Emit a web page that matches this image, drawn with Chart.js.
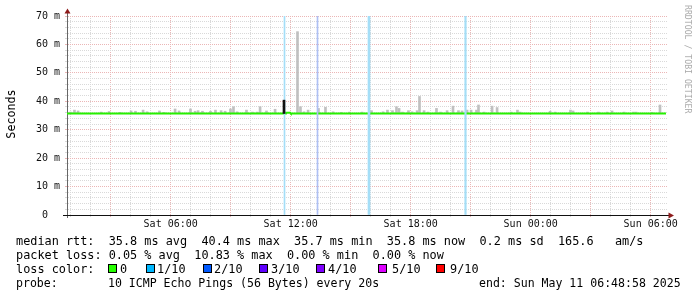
<!DOCTYPE html>
<html>
<head>
<meta charset="utf-8">
<script src="https://cdn.jsdelivr.net/npm/chart.js@4.4.1/dist/chart.umd.min.js"></script>
<style>
body{margin:0;background:#fff;}
#wrap{position:relative;width:697px;height:297px;overflow:hidden;font-family:"DejaVu Sans Mono",monospace;color:#000;}
canvas{position:absolute;left:0;top:0;}
.t{position:absolute;white-space:pre;font-size:11.85px;line-height:14px;}
.t.s{font-size:11.55px;}
.box{position:absolute;width:7px;height:7px;border:1px solid #000;}
#ytitle{position:absolute;left:-19px;top:107px;width:60px;height:14px;line-height:14px;text-align:center;font-size:11.7px;transform:rotate(-90deg);}
#mark{position:absolute;left:693px;top:5px;white-space:pre;font-size:8.2px;line-height:10px;color:#aaa;transform-origin:0 0;transform:rotate(90deg);}
</style>
</head>
<body>
<div id="wrap">
<canvas id="chart" width="697" height="297"></canvas>
<div id="ytitle">Seconds</div>
<div id="mark">RRDTOOL / TOBI OETIKER</div>
<div class="t" style="left:16px;top:234px">median rtt:  35.8 ms avg  40.4 ms max  35.7 ms min  35.8 ms now  0.2 ms sd  165.6   am/s</div>
<div class="t" style="left:16px;top:248px">packet loss: 0.05 % avg  10.83 % max  0.00 % min  0.00 % now</div>
<div class="t" style="left:16px;top:262px">loss color:</div>
<div id="losslegend"></div>
<div class="t s" style="left:16px;top:276px">probe:</div>
<div class="t s" style="left:108px;top:276px">10 ICMP Echo Pings (56 Bytes) every 20s</div>
<div class="t s" style="left:479px;top:276px">end: Sun May 11 06:48:58 2025</div>
</div>
<script>
// time axis in hours since Sat 00:00
const startHour = 0.816;
const endHour = 30.816;
const tickHours = [6, 12, 18, 24, 30];
const tickLabels = ["Sat 06:00", "Sat 12:00", "Sat 18:00", "Sun 00:00", "Sun 06:00"];
const yLabelValues = [0, 10, 20, 30, 40, 50, 60, 70];
const yLabels = ["0  ", "10 m", "20 m", "30 m", "40 m", "50 m", "60 m", "70 m"];

// median rtt (ms)
const medianHours = [0.816, 11.72, 11.76, 11.97, 12.01, 30.766];
const medianMs = [35.7, 35.7, 36.0, 36.0, 35.7, 35.7];
const medianBase = 35.7;

// smoke: top of the ping spread (ms)
const smokeHours = [0.99, 1.19, 1.37, 2.52, 2.92, 3.47, 4.02, 4.24, 4.62, 4.82, 5.44, 5.67, 6.22, 6.42, 6.99, 7.22, 7.37, 7.59, 7.99, 8.24,
  8.52, 8.72, 8.99, 9.14, 9.32, 9.79, 10.09, 10.32, 10.47, 10.79, 11.22, 12.341, 12.49, 12.67, 12.87, 13.39, 13.74, 14.12, 14.52, 14.94,
  15.57, 16.04, 16.62, 16.84, 17.09, 17.29, 17.42, 17.59, 17.89, 18.07, 18.32, 18.441, 18.67, 18.87, 19.29, 19.49, 19.82, 20.116, 20.39, 20.57,
  20.82, 21.02, 21.29, 21.391, 21.67, 22.07, 22.32, 23.02, 23.34, 23.47, 24.97, 25.22, 25.99, 26.12, 26.84, 27.39, 27.82, 28.07, 28.67, 29.14,
  29.27, 30.07, 30.466];
const smokeTopMs = [36.2, 36.9, 36.6, 36.2, 36.4, 36.1, 36.6, 36.5, 36.9, 36.3, 36.6, 36.1, 37.3, 36.6, 37.3, 36.5, 36.7, 36.5, 36.5, 36.9,
  36.7, 36.5, 37.3, 38.1, 36.3, 36.9, 36.2, 36.2, 38.1, 36.6, 37.2, 64.5, 38.1, 36.3, 36.9, 37.5, 37.9, 36.3, 36.1, 36.2,
  36.2, 36.7, 36.3, 36.9, 36.7, 38.1, 37.5, 36.2, 36.7, 36.3, 36.7, 41.7, 36.7, 36.2, 37.5, 36.2, 36.7, 38.3, 36.7, 36.6,
  36.9, 36.9, 36.9, 38.7, 36.2, 38.3, 37.8, 36.2, 36.9, 36.2, 36.5, 36.2, 36.9, 36.6, 36.2, 36.2, 36.2, 36.6, 36.2, 36.2,
  36.2, 36.1, 38.7];

// median peak
const peakHours = [11.666];
const peakMs = [40.4];

// packet loss events
const lossHours = [11.691, 13.341, 15.916, 20.741];
const lossTenths = [1, 2, 1, 1];

// styles
const lossFill = {1: "#a4def7", 2: "#aec0f4"};
const lossWidth = [1, 1, 2, 1.5];
const minorGrid = "#d9d9d9";
const majorGrid = "#ebb6b6";

const lossLegend = [
  ["#26ff00", "0", 108, 120], ["#00b8ff", "1/10", 146, 157], ["#0059ff", "2/10", 203, 214],
  ["#5e00ff", "3/10", 259, 271], ["#7e00ff", "4/10", 316, 328], ["#dd00ff", "5/10", 378, 392], ["#ff0000", "9/10", 436, 450]
];
const ll = document.getElementById("losslegend");
lossLegend.forEach(([c, txt, bx, tx]) => {
  ll.insertAdjacentHTML("beforeend",
    `<div class="box" style="left:${bx}px;top:264px;background:${c}"></div><div class="t" style="left:${tx}px;top:262px">${txt}</div>`);
});

const hourTicks = [];
for (let h = 1; h <= 30; h++) hourTicks.push({value: h});
const msTicks = [];
for (let v = 0; v <= 70; v += 2) msTicks.push({value: v});

const axisArrows = {
  id: "axisArrows",
  afterDraw(chart) {
    const {ctx, chartArea: a} = chart;
    ctx.save();
    ctx.lineWidth = 1;
    ctx.strokeStyle = "#666";
    ctx.beginPath();
    ctx.moveTo(a.left + 0.5, a.top);
    ctx.lineTo(a.left + 0.5, a.top - 4);
    ctx.moveTo(a.left + 0.5, a.bottom);
    ctx.lineTo(a.left + 0.5, a.bottom + 3);
    ctx.stroke();
    ctx.strokeStyle = "#111";
    ctx.beginPath();
    ctx.moveTo(a.left - 4, a.bottom + 0.5);
    ctx.lineTo(a.right + 2, a.bottom + 0.5);
    ctx.stroke();
    ctx.fillStyle = "#8e1b1b";
    ctx.beginPath();
    ctx.moveTo(a.left + 0.5, a.top - 7.5);
    ctx.lineTo(a.left - 2.5, a.top - 2.5);
    ctx.lineTo(a.left + 3.5, a.top - 2.5);
    ctx.closePath();
    ctx.fill();
    ctx.beginPath();
    ctx.moveTo(a.right + 7, a.bottom + 0.5);
    ctx.lineTo(a.right + 1.5, a.bottom - 2.5);
    ctx.lineTo(a.right + 1.5, a.bottom + 3.5);
    ctx.closePath();
    ctx.fill();
    ctx.restore();
  }
};

const datasets = [
  {
    type: "bar", order: 4, grouped: false, barThickness: 2,
    backgroundColor: "#c0c0c0",
    data: smokeHours.map((h, i) => ({x: h, y: [medianBase, smokeTopMs[i]]}))
  },
  {
    type: "line", order: 3,
    borderColor: "#26f000", borderWidth: 2, pointRadius: 0, tension: 0,
    data: medianHours.map((h, i) => ({x: h, y: medianMs[i]}))
  },
  ...lossHours.map((h, i) => ({
    type: "bar", order: 2, grouped: false, barThickness: lossWidth[i],
    backgroundColor: lossFill[lossTenths[i]],
    data: [{x: h, y: [0, 70]}]
  })),
  {
    type: "bar", order: 1, grouped: false, barThickness: 2,
    backgroundColor: "#111",
    data: peakHours.map((h, i) => ({x: h, y: [medianBase, peakMs[i]]}))
  }
];

const tickFont = {family: "DejaVu Sans Mono", size: 10};

new Chart(document.getElementById("chart").getContext("2d"), {
  type: "bar",
  data: {datasets},
  options: {
    responsive: false,
    animation: false,
    devicePixelRatio: 1,
    layout: {padding: {top: 16, right: 30, left: 0, bottom: 0}},
    plugins: {legend: {display: false}, tooltip: {enabled: false}},
    scales: {
      x: {
        type: "linear", min: startHour, max: endHour, offset: false,
        afterBuildTicks: s => { s.ticks = hourTicks.slice(); },
        afterFit: s => { s.height = 82; },
        grid: {
          offset: false, lineWidth: 1, drawTicks: true, tickLength: 2,
          color: c => c.tick && c.tick.value % 3 === 0 ? majorGrid : minorGrid,
          tickColor: c => c.tick && c.tick.value % 3 === 0 ? majorGrid : minorGrid
        },
        border: {display: true, color: "#111", width: 1, dash: [1, 1]},
        ticks: {
          autoSkip: false, maxRotation: 0, minRotation: 0, padding: 1,
          font: tickFont, color: "#111",
          callback: v => { const i = tickHours.indexOf(v); return i < 0 ? "" : tickLabels[i]; }
        }
      },
      y: {
        type: "linear", min: 0, max: 70,
        afterBuildTicks: s => { s.ticks = msTicks.slice(); },
        afterFit: s => { s.width = 67; },
        grid: {
          lineWidth: 1, drawTicks: true, tickLength: 2,
          color: c => c.tick && c.tick.value % 10 === 0 ? majorGrid : minorGrid,
          tickColor: c => c.tick && c.tick.value % 10 === 0 ? majorGrid : minorGrid
        },
        border: {display: true, color: "#666", width: 1, dash: [1, 1]},
        ticks: {
          autoSkip: false, padding: 5, font: tickFont, color: "#111",
          callback: v => { const i = yLabelValues.indexOf(v); return i < 0 ? "" : yLabels[i]; }
        }
      }
    }
  },
  plugins: [axisArrows]
});
</script>
</body>
</html>
